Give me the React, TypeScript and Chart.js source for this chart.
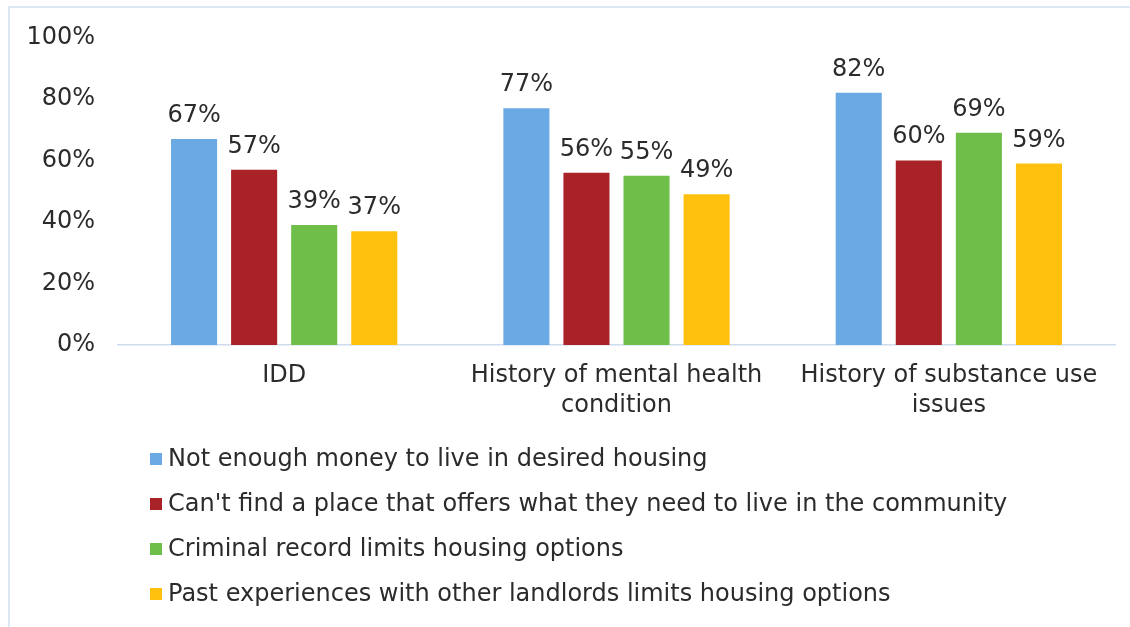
import React, { useEffect, useRef } from "react";
import { Chart, registerables } from "chart.js";

Chart.register(...registerables);

const categories: (string | string[])[] = [
  "IDD",
  ["History of mental health", "condition"],
  ["History of substance use", "issues"],
];
const seriesNames = [
  "Not enough money to live in desired housing",
  "Can't find a place that offers what they need to live in the community",
  "Criminal record limits housing options",
  "Past experiences with other landlords limits housing options",
];
const notEnoughMoney = [67, 77, 82];
const cantFindPlace = [57, 56, 60];
const criminalRecord = [39, 55, 69];
const pastLandlords = [37, 49, 59];
const yTicks = [0, 20, 40, 60, 80, 100];
const seriesColors = ["#6AA9E3", "#A82228", "#6FBE4A", "#FFC10E"];

const FONT = "'DejaVu Sans', Verdana, sans-serif";
const TEXT = "#2b2b2b";
const FS = 24;

const valueLabels = {
  id: "valueLabels",
  afterDatasetsDraw(chart: any) {
    const ctx = chart.ctx;
    ctx.save();
    ctx.font = `${FS}px ${FONT}`;
    ctx.fillStyle = TEXT;
    ctx.textAlign = "center";
    ctx.textBaseline = "alphabetic";
    chart.data.datasets.forEach((ds: any, i: number) => {
      const meta = chart.getDatasetMeta(i);
      meta.data.forEach((el: any, j: number) => {
        ctx.fillText(`${ds.data[j]}%`, el.x, el.y - 17);
      });
    });
    ctx.restore();
  },
};

const customLegend = {
  id: "customLegend",
  afterDraw(chart: any) {
    const ctx = chart.ctx;
    const top = chart.scales.x.bottom;
    ctx.save();
    ctx.font = `${FS}px ${FONT}`;
    ctx.textAlign = "left";
    ctx.textBaseline = "middle";
    chart.data.datasets.forEach((ds: any, i: number) => {
      const cy = top + 40 + i * 45;
      ctx.fillStyle = ds.backgroundColor;
      ctx.fillRect(150, cy - 6, 12, 12);
      ctx.fillStyle = TEXT;
      ctx.fillText(ds.label, 168, cy + 1);
    });
    ctx.restore();
  },
};

export default function App() {
  const ref = useRef<HTMLCanvasElement>(null);
  useEffect(() => {
    if (!ref.current) return;
    const values = [notEnoughMoney, cantFindPlace, criminalRecord, pastLandlords];
    const chart = new Chart(ref.current, {
      type: "bar",
      data: {
        labels: categories,
        datasets: values.map((d, i) => ({
          label: seriesNames[i],
          data: d,
          backgroundColor: seriesColors[i],
          categoryPercentage: 0.723,
          barPercentage: 0.767,
        })),
      },
      options: {
        responsive: false,
        animation: false,
        layout: { padding: { top: 37, right: 15, bottom: 208, left: 0 } },
        plugins: {
          legend: { display: false },
          tooltip: { enabled: false },
        },
        scales: {
          x: {
            grid: { display: false, drawTicks: false },
            border: { display: true, color: "#cfdcf0", width: 1.5 },
            ticks: {
              color: TEXT,
              padding: 16,
              font: { family: FONT, size: FS, lineHeight: 1.25 },
              maxRotation: 0,
              autoSkip: false,
            },
            afterFit: (s: any) => {
              s.height = 74;
            },
          },
          y: {
            min: 0,
            max: 100,
            afterBuildTicks: (s: any) => {
              s.ticks = yTicks.map((v) => ({ value: v }));
            },
            grid: { display: false, drawTicks: false },
            border: { display: false },
            ticks: {
              color: TEXT,
              padding: 23,
              font: { family: FONT, size: FS },
              callback: (v: any) => `${v}%`,
            },
            afterFit: (s: any) => {
              s.width = 118;
            },
          },
        },
      },
      plugins: [valueLabels, customLegend],
    });
    return () => chart.destroy();
  }, []);

  return (
    <div
      style={{
        position: "fixed",
        left: 0,
        top: 0,
        width: 1130,
        height: 627,
        background: "#fff",
        overflow: "hidden",
      }}
    >
      <canvas ref={ref} width={1130} height={627} style={{ position: "absolute", left: 0, top: 0 }} />
      <div
        style={{
          position: "absolute",
          left: 8,
          top: 6,
          width: 1300,
          height: 800,
          borderTop: "2px solid #dde7f6",
          borderLeft: "2px solid #dde7f6",
          pointerEvents: "none",
        }}
      />
    </div>
  );
}
